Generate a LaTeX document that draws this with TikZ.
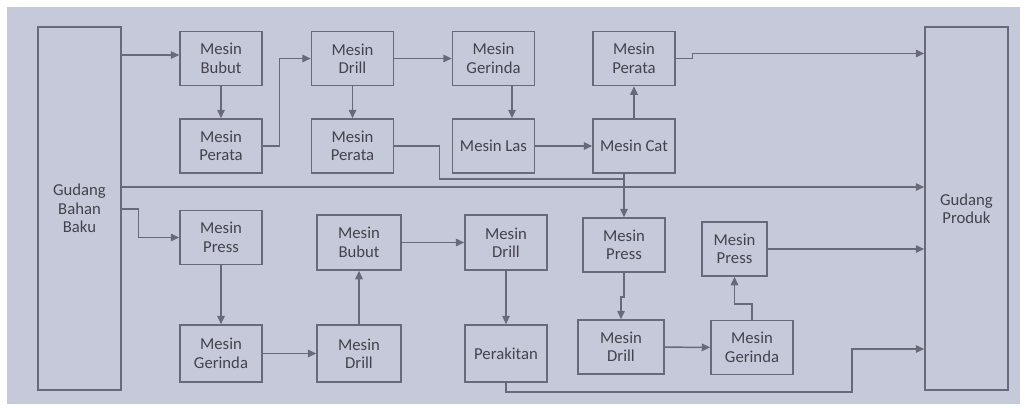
\documentclass[tikz,border=0pt]{standalone}
\usepackage{fontspec}
\setmainfont{Carlito}
\usetikzlibrary{calc, positioning}
\usetikzlibrary{arrows.meta}
\definecolor{bgcol}{RGB}{198,201,217}
\definecolor{linecol}{RGB}{104,106,122}
\definecolor{txtcol}{RGB}{66,67,78}
\tikzset{
  mbox/.style={draw=linecol, line width=0.85pt, fill=bgcol, align=center,
    minimum width=16.4mm, minimum height=10.8mm, inner sep=0pt,
    text=txtcol, font=\fontsize{9.5}{10.5}\selectfont},
  store/.style={mbox, minimum width=16.6mm, minimum height=72.6mm},
  flow/.style={draw=linecol, line width=0.85pt, -{Triangle[length=1.7mm, width=1.5mm]}},
  plain/.style={draw=linecol, line width=0.85pt}
}

\begin{document}
\begin{tikzpicture}[x=0.2mm, y=-0.2mm]
\useasboundingbox (0,0) rectangle (1027,407);
\fill[bgcol] (7,7) rectangle (1020,404);

\def\ylong{187}

% gudang
\node[store] (bahan) at (79.5,208.5) {Gudang\\Bahan\\Baku};
\node[store] (produk) at (966.5,208.5) {Gudang\\Produk};

% alur atas
\node[mbox] (bubutA) at (221,58.5) {Mesin\\Bubut};
\node[mbox] (perataA) at (221,146) {Mesin\\Perata};
\node[mbox] (drillA) at (352.5,58.5) {Mesin\\Drill};
\node[mbox] (perataB) at (352.5,146) {Mesin\\Perata};
\node[mbox] (gerindaA) at (493.5,58.5) {Mesin\\Gerinda};
\node[mbox] (las) at (493.5,146) {Mesin Las};
\node[mbox] (perataC) at (634,58.5) {Mesin\\Perata};
\node[mbox] (cat) at (634,146) {Mesin Cat};

% alur bawah
\node[mbox] (pressA) at (221,237.5) {Mesin\\Press};
\node[mbox, minimum height=11.4mm] (gerindaB) at (221,353.5) {Mesin\\Gerinda};
\node[mbox, minimum width=16.8mm, minimum height=11mm] (bubutB) at (359,242.5) {Mesin\\Bubut};
\node[mbox, minimum width=16.8mm, minimum height=11.4mm] (drillB) at (359,353.5) {Mesin\\Drill};
\node[mbox, minimum height=11mm] (drillC) at (506,242.5) {Mesin\\Drill};
\node[mbox, minimum height=11.4mm] (rakit) at (506,353.5) {Perakitan};
\node[mbox] (pressB) at (624,245) {Mesin\\Press};
\node[mbox, minimum width=17.2mm] (drillD) at (621,347) {Mesin\\Drill};
\node[mbox, minimum width=13mm] (pressC) at (734.5,249) {Mesin\\Press};
\node[mbox] (gerindaC) at (752,347.5) {Mesin\\Gerinda};

\coordinate (jog) at (852,349);

% panah atas
\draw[flow] (bahan.east |- 0,55) -- (bubutA.west |- 0,55);
\draw[flow] (bubutA) -- (perataA);
\draw[flow] (perataA.east) -- ++(17,0) |- (drillA.west);
\draw[flow] (drillA) -- (gerindaA);
\draw[flow] (drillA) -- (perataB);
\draw[flow] ([xshift=3.7mm]gerindaA.south) -- ([xshift=3.7mm]las.north);
\draw[flow] (las) -- (cat);
\draw[flow] (cat) -- (perataC);
\draw[flow] (perataC.east) -- ++(17,0) -- ++(0,-5) coordinate (pc) -- (pc -| produk.west);
\draw[flow] (bahan.east |- 0,\ylong) -- (produk.west |- 0,\ylong);
\draw[plain] (cat.south -| pressB.north) -- (pressB.north |- 0,179);
\draw[flow] (perataB.east) -- ++(45,0) |- (pressB.north |- 0,179) -- (pressB.north);

% panah bawah
\draw[flow] (bahan.east |- 0,209) -- ++(17,0) |- (pressA.west);
\draw[flow] (pressA) -- (gerindaB);
\draw[flow] (gerindaB) -- (drillB);
\draw[flow] (drillB) -- (bubutB);
\draw[flow] (bubutB) -- (drillC);
\draw[flow] (drillC) -- (rakit);
\draw[flow] (pressB.south) -- ++(0,24) -| (drillD.north);
\draw[flow] (drillD) -- (gerindaC);
\draw[flow] (gerindaC.north) -- ++(0,-16) -| (pressC.south);
\draw[flow] (pressC.east) -- (pressC.east -| produk.west);
\draw[flow] (rakit.south) -- ++(0,9) -| (jog) -- (jog -| produk.west);
\end{tikzpicture}
\end{document}
